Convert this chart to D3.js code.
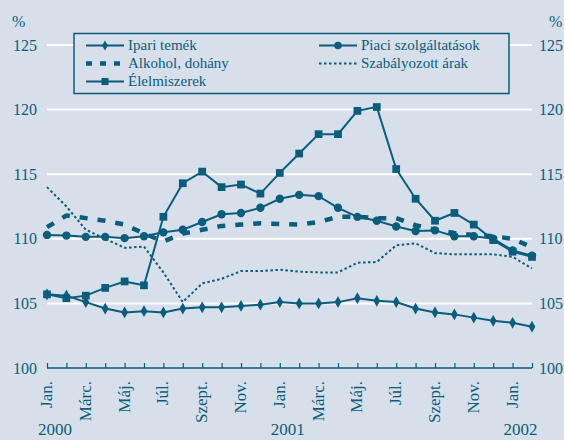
<!DOCTYPE html>
<html>
<head>
<meta charset="utf-8">
<script src="https://cdn.jsdelivr.net/npm/d3@7"></script>
<style>
  body { margin: 0; background: #d6dfea; }
  svg text { font-family: "Liberation Serif", "DejaVu Serif", "Times New Roman", serif; fill: #0b5d7b; }
</style>
</head>
<body>
<svg id="chart" width="564" height="440"></svg>
<script>
var months = ["Jan.", "Febr.", "Márc.", "Ápr.", "Máj.", "Jún.", "Júl.", "Aug.", "Szept.", "Okt.", "Nov.", "Dec.",
              "Jan.", "Febr.", "Márc.", "Ápr.", "Máj.", "Jún.", "Júl.", "Aug.", "Szept.", "Okt.", "Nov.", "Dec.",
              "Jan.", "Febr."];
var years = [{label: "2000", idx: 0}, {label: "2001", idx: 12}, {label: "2002", idx: 24}];
var yTicks = [100, 105, 110, 115, 120, 125];

var ipari = [105.7, 105.6, 105.1, 104.6, 104.3, 104.4, 104.3, 104.6, 104.7, 104.7, 104.8, 104.9, 105.1,
             105.0, 105.0, 105.1, 105.4, 105.2, 105.1, 104.6, 104.3, 104.15, 103.9, 103.65, 103.5, 103.2];
var piaci = [110.3, 110.25, 110.15, 110.15, 110.05, 110.2, 110.5, 110.7, 111.3, 111.9, 112.0, 112.4, 113.1,
             113.4, 113.3, 112.4, 111.7, 111.4, 110.95, 110.6, 110.65, 110.2, 110.2, 110.0, 109.1, 108.7];
var alkohol = [110.9, 111.8, 111.6, 111.4, 111.1, 110.4, 109.8, 110.4, 110.7, 111.0, 111.1, 111.2, 111.15,
               111.1, 111.3, 111.7, 111.7, 111.6, 111.6, 111.05, 110.7, 110.45, 110.3, 110.2, 110.0, 109.35];
var szabaly = [114.0, 112.5, 110.7, 110.0, 109.3, 109.4, 107.4, 105.1, 106.55, 106.9, 107.5, 107.5, 107.6,
               107.45, 107.4, 107.4, 108.15, 108.2, 109.5, 109.65, 108.9, 108.8, 108.8, 108.8, 108.6, 107.7];
var elelmi = [105.7, 105.4, 105.6, 106.2, 106.7, 106.4, 111.7, 114.3, 115.2, 114.0, 114.2, 113.5, 115.1,
              116.6, 118.1, 118.1, 119.9, 120.2, 115.4, 113.1, 111.4, 112.0, 111.1, 109.9, 109.0, 108.6];

var ink = "#0b5d7b";
var serif = "'Liberation Serif', 'DejaVu Serif', serif";
var svg = d3.select("#chart");

var x = d3.scaleLinear().domain([0, months.length - 1]).range([47, 532]);
var y = d3.scaleLinear().domain([100, 125]).range([368, 45]);

// gridlines
svg.append("g").selectAll("line").data(yTicks.filter(function(d) { return d > 100; })).enter()
  .append("line")
  .attr("x1", x(0)).attr("x2", x(months.length - 1))
  .attr("y1", function(d) { return y(d); }).attr("y2", function(d) { return y(d); })
  .attr("stroke", "#ffffff").attr("stroke-width", 2);

// y labels both sides
svg.append("g").selectAll("text").data(yTicks).enter().append("text")
  .attr("x", 37).attr("y", function(d) { return y(d); }).attr("dy", "0.35em")
  .attr("font-family", serif)
  .attr("text-anchor", "end").style("font-size", "16px").text(function(d) { return d; });
svg.append("g").selectAll("text").data(yTicks).enter().append("text")
  .attr("x", 539).attr("y", function(d) { return y(d); }).attr("dy", "0.35em")
  .attr("font-family", serif)
  .attr("text-anchor", "start").style("font-size", "16px").text(function(d) { return d; });
svg.append("text").attr("x", 12).attr("y", 27).attr("font-family", serif).style("font-size", "16px").text("%");
svg.append("text").attr("x", 549).attr("y", 27).attr("font-family", serif).style("font-size", "16px").text("%");

// bottom axis
var xAxis = d3.axisBottom(x).tickValues(d3.range(months.length)).tickSize(-5).tickFormat("");
var ax = svg.append("g").attr("transform", "translate(0," + y(100) + ")").call(xAxis);
ax.select(".domain").attr("stroke", ink).attr("stroke-width", 1.5).attr("d", "M" + x(0) + ",0H" + x(months.length - 1));
ax.selectAll(".tick line").attr("stroke", ink).attr("stroke-width", 1.2);

svg.append("g").selectAll("text").data(d3.range(0, months.length, 2)).enter().append("text")
  .attr("transform", function(d) { return "translate(" + (x(d) + 5) + "," + 381 + ") rotate(-90)"; })
  .attr("text-anchor", "end").attr("font-family", serif).style("font-size", "17px")
  .text(function(d) { return months[d]; });

svg.append("g").selectAll("text").data(years).enter().append("text")
  .attr("x", function(d) { return x(d.idx) + 8; }).attr("y", 435)
  .attr("text-anchor", "middle").attr("font-family", serif).style("font-size", "17px")
  .text(function(d) { return d.label; });

var line = d3.line().x(function(d, i) { return x(i); }).y(function(d) { return y(d); });

function drawSeries(data, opts) {
  svg.append("path").datum(data)
    .attr("d", line).attr("fill", "none").attr("stroke", ink)
    .attr("stroke-width", opts.width).attr("stroke-dasharray", opts.dash || null);
  if (opts.marker) {
    svg.append("g").selectAll("path").data(data).enter().append("path")
      .attr("transform", function(d, i) { return "translate(" + x(i) + "," + y(d) + ")"; })
      .attr("d", d3.symbol().type(opts.marker).size(opts.size))
      .attr("fill", ink);
  }
}

drawSeries(szabaly, {width: 2, dash: "2.5,2.5"});
drawSeries(alkohol, {width: 4.5, dash: "8,10"});
drawSeries(ipari, {width: 2, marker: d3.symbolDiamond, size: 40});
drawSeries(piaci, {width: 2, marker: d3.symbolCircle, size: 55});
drawSeries(elelmi, {width: 2, marker: d3.symbolSquare, size: 60});

// legend
var lg = svg.append("g");
lg.append("rect").attr("x", 74).attr("y", 33.5).attr("width", 435).attr("height", 60)
  .attr("fill", "#d6dfea").attr("stroke", ink).attr("stroke-width", 1.5);

var legendItems = [
  {label: "Ipari temék", lx: 86, ly: 45.5, width: 2, marker: d3.symbolDiamond, size: 30},
  {label: "Alkohol, dohány", lx: 86, ly: 63.5, width: 4.5, dash: "6,8"},
  {label: "Élelmiszerek", lx: 86, ly: 81.5, width: 2, marker: d3.symbolSquare, size: 50},
  {label: "Piaci szolgáltatások", lx: 319, ly: 45.5, width: 2, marker: d3.symbolCircle, size: 45},
  {label: "Szabályozott árak", lx: 319, ly: 63.5, width: 2, dash: "2.5,2.5"}
];
var li = lg.selectAll(".item").data(legendItems).enter().append("g").attr("class", "item");
li.append("line")
  .attr("x1", function(d) { return d.lx; }).attr("x2", function(d) { return d.lx + 38; })
  .attr("y1", function(d) { return d.ly; }).attr("y2", function(d) { return d.ly; })
  .attr("stroke", ink).attr("stroke-width", function(d) { return d.width; })
  .attr("stroke-dasharray", function(d) { return d.dash || null; });
li.filter(function(d) { return d.marker; }).append("path")
  .attr("transform", function(d) { return "translate(" + (d.lx + 19) + "," + d.ly + ")"; })
  .attr("d", function(d) { return d3.symbol().type(d.marker).size(d.size)(); })
  .attr("fill", ink);
li.append("text")
  .attr("x", function(d) { return d.lx + 42; }).attr("y", function(d) { return d.ly; })
  .attr("dy", "0.33em").attr("font-family", serif).style("font-size", "15px")
  .text(function(d) { return d.label; });
</script>
</body>
</html>
